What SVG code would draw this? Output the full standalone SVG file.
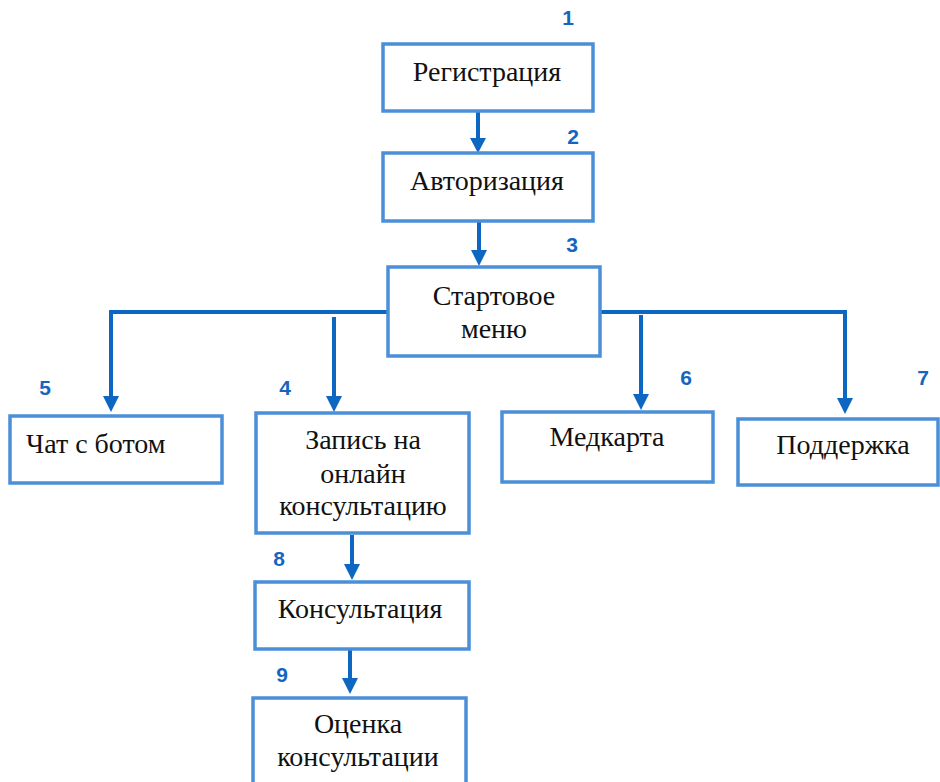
<svg xmlns="http://www.w3.org/2000/svg" width="940" height="782" viewBox="0 0 940 782">
<style>
.box{fill:#fff;stroke:#4a8fd8;stroke-width:3.5}
.t{font-family:"Liberation Serif","Times New Roman",serif;font-size:28px;fill:#111;text-anchor:middle}
.n{font-family:"Liberation Sans",Arial,sans-serif;font-weight:bold;font-size:21px;fill:#1565c0;text-anchor:middle}
.c{fill:none;stroke:#0d66c2;stroke-width:4}
.h{fill:#0d66c2}
</style>
<rect width="940" height="782" fill="#fff"/>
<g id="connectors">
<path class="c" d="M478,111 V140"/><path class="h" d="M470,138 L486,138 L478,153 Z"/>
<path class="c" d="M479,221 V252"/><path class="h" d="M471,250 L487,250 L479,266 Z"/>
<path class="c" d="M388,312 H111 V398"/><path class="h" d="M103,396 L119,396 L111,412 Z"/>
<path class="c" d="M334,317 V398"/><path class="h" d="M326,396 L342,396 L334,412 Z"/>
<path class="c" d="M600,312 H845 V400"/><path class="h" d="M837,398 L853,398 L845,414 Z"/>
<path class="c" d="M641,315 V396"/><path class="h" d="M633,394 L649,394 L641,410 Z"/>
<path class="c" d="M352,535 V566"/><path class="h" d="M344,564 L360,564 L352,580 Z"/>
<path class="c" d="M350,650 V680"/><path class="h" d="M342,678 L358,678 L350,694 Z"/>
</g>
<g id="n1"><rect class="box" x="383" y="44" width="210" height="67"/><text class="t" x="487" y="81">Регистрация</text><text class="n" x="568" y="25">1</text></g>
<g id="n2"><rect class="box" x="383" y="153" width="210" height="68"/><text class="t" x="487" y="190">Авторизация</text><text class="n" x="573" y="144">2</text></g>
<g id="n3"><rect class="box" x="388" y="267" width="212" height="89"/><text class="t" x="494" y="305">Стартовое</text><text class="t" x="494" y="338">меню</text><text class="n" x="572" y="252">3</text></g>
<g id="n5"><rect class="box" x="10" y="416" width="212" height="67"/><text class="t" x="26" y="453" style="text-anchor:start">Чат с ботом</text><text class="n" x="45" y="395">5</text></g>
<g id="n4"><rect class="box" x="256" y="413" width="213" height="120"/><text class="t" x="363" y="449">Запись на</text><text class="t" x="363" y="483">онлайн</text><text class="t" x="363" y="515">консультацию</text><text class="n" x="285" y="395">4</text></g>
<g id="n6"><rect class="box" x="502" y="412" width="211" height="70"/><text class="t" x="607" y="446">Медкарта</text><text class="n" x="686" y="385">6</text></g>
<g id="n7"><rect class="box" x="738" y="419" width="200" height="66"/><text class="t" x="843" y="454">Поддержка</text><text class="n" x="923" y="385">7</text></g>
<g id="n8"><rect class="box" x="255" y="582" width="214" height="67"/><text class="t" x="360" y="618">Консультация</text><text class="n" x="279" y="566">8</text></g>
<g id="n9"><rect class="box" x="253" y="698" width="213" height="90"/><text class="t" x="358" y="733">Оценка</text><text class="t" x="358" y="766">консультации</text><text class="n" x="282" y="682">9</text></g>
</svg>
